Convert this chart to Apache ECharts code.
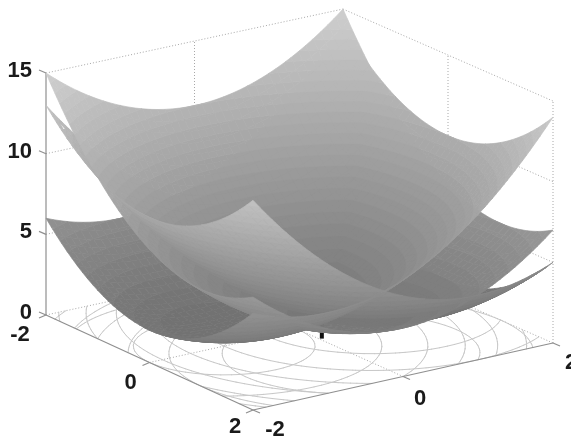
<!DOCTYPE html>
<html><head><meta charset="utf-8">
<style>html,body{margin:0;padding:0;background:#fff}#c{width:571px;height:438px}</style>
<script src="https://cdn.jsdelivr.net/npm/echarts@6/dist/echarts.min.js"></script>
</head><body><div id="c"></div>
<script>
// ---------- data ----------
const gridValues = [-2,-1.9,-1.8,-1.7,-1.6,-1.5,-1.4,-1.3,-1.2,-1.1,-1,-0.9,-0.8,-0.7,-0.6,-0.5,-0.4,-0.3,-0.2,-0.1,0,0.1,0.2,0.3,0.4,0.5,0.6,0.7,0.8,0.9,1,1.1,1.2,1.3,1.4,1.5,1.6,1.7,1.8,1.9,2];
// each surface height = its profile along the first axis + its profile along the second axis + its base
const upperAlongA = [9,8.41,7.84,7.29,6.76,6.25,5.76,5.29,4.84,4.41,4,3.61,3.24,2.89,2.56,2.25,1.96,1.69,1.44,1.21,1,0.81,0.64,0.49,0.36,0.25,0.16,0.09,0.04,0.01,0,0.01,0.04,0.09,0.16,0.25,0.36,0.49,0.64,0.81,1];
const upperAlongB = [4,3.61,3.24,2.89,2.56,2.25,1.96,1.69,1.44,1.21,1,0.81,0.64,0.49,0.36,0.25,0.16,0.09,0.04,0.01,0,0.01,0.04,0.09,0.16,0.25,0.36,0.49,0.64,0.81,1,1.21,1.44,1.69,1.96,2.25,2.56,2.89,3.24,3.61,4];
const middleAlongA = [4,3.61,3.24,2.89,2.56,2.25,1.96,1.69,1.44,1.21,1,0.81,0.64,0.49,0.36,0.25,0.16,0.09,0.04,0.01,0,0.01,0.04,0.09,0.16,0.25,0.36,0.49,0.64,0.81,1,1.21,1.44,1.69,1.96,2.25,2.56,2.89,3.24,3.61,4];
const middleAlongB = [9,8.41,7.84,7.29,6.76,6.25,5.76,5.29,4.84,4.41,4,3.61,3.24,2.89,2.56,2.25,1.96,1.69,1.44,1.21,1,0.81,0.64,0.49,0.36,0.25,0.16,0.09,0.04,0.01,0,0.01,0.04,0.09,0.16,0.25,0.36,0.49,0.64,0.81,1];
const lowerAlongA = [4,3.61,3.24,2.89,2.56,2.25,1.96,1.69,1.44,1.21,1,0.81,0.64,0.49,0.36,0.25,0.16,0.09,0.04,0.01,0,0.01,0.04,0.09,0.16,0.25,0.36,0.49,0.64,0.81,1,1.21,1.44,1.69,1.96,2.25,2.56,2.89,3.24,3.61,4];
const lowerAlongB = [1,0.81,0.64,0.49,0.36,0.25,0.16,0.09,0.04,0.01,0,0.01,0.04,0.09,0.16,0.25,0.36,0.49,0.64,0.81,1,1.21,1.44,1.69,1.96,2.25,2.56,2.89,3.24,3.61,4,4.41,4.84,5.29,5.76,6.25,6.76,7.29,7.84,8.41,9];
const surfaceBases = [2, 0, 1];
const contourLevels = [2,4,6,8,10,12,14];
const zTicks = [0,5,10,15];
const zTickLabels = ['0','5','10','15'];
const aTicks = [-2,0,2];
const aTickLabels = ['-2','0','2'];
const bTicks = [-2,0,2];
const bTickLabels = ['-2','0','2'];
const markerPoint = [0.4,0.03,0,1];
const bandStep = 0.5;

// ---------- 3D view: (a,b,z) -> plane coordinates used by the hidden cartesian axes ----------
function project(a,b,z){
  const A=(a+2)/4,B=(b+2)/4;
  return [46+207*A+297*B+3*A*B, 315+95*A-64*B-3*A*B-16.13*z];
}
const profiles=[[upperAlongA,upperAlongB],[middleAlongA,middleAlongB],[lowerAlongA,lowerAlongB]];
const n=gridValues.length;
const surfaces=profiles.map((p,s)=>p[0].map(ha=>p[1].map(hb=>ha+hb+surfaceBases[s])));

function gray(z){const g=Math.round(Math.min(212,105+6.8*z));return `rgb(${g},${g},${g})`;}

// keep the part of a mesh cell that lies on one side of a height level
function clipZ(poly,level,keepAbove){
  const out=[];
  for(let i=0;i<poly.length;i++){
    const P=poly[i],Q=poly[(i+1)%poly.length];
    const pIn=keepAbove?P[2]>=level:P[2]<=level;
    const qIn=keepAbove?Q[2]>=level:Q[2]<=level;
    if(pIn)out.push(P);
    if(pIn!==qIn){
      const t=(level-P[2])/(Q[2]-P[2]);
      out.push([P[0]+t*(Q[0]-P[0]),P[1]+t*(Q[1]-P[1]),level]);
    }
  }
  return out;
}
const quads=[];
surfaces.forEach(Z=>{
  for(let i=0;i<n-1;i++)for(let j=0;j<n-1;j++){
    const c=[[i,j],[i+1,j],[i+1,j+1],[i,j+1]];
    const pts=c.map(([p,q])=>[gridValues[p],gridValues[q],Z[p][q]]);
    const zs=pts.map(t=>t[2]);
    const k0=Math.floor(Math.min(...zs)/bandStep),k1=Math.floor(Math.max(...zs)/bandStep);
    for(let k=k0;k<=k1;k++){
      let poly=clipZ(pts,k*bandStep,true);
      if(poly.length)poly=clipZ(poly,(k+1)*bandStep,false);
      if(poly.length<3)continue;
      const zm=poly.reduce((m,t)=>m+t[2],0)/poly.length;
      quads.push({pts:poly,zm,color:gray((k+0.5)*bandStep)});
    }
  }
});
quads.sort((u,v)=>u.zm-v.zm);

// contour lines on the floor, traced from the same surfaces
const contourSegs=[];
surfaces.forEach(Z=>{
  contourLevels.forEach(L=>{
    for(let i=0;i<n-1;i++)for(let j=0;j<n-1;j++){
      const c=[[i,j],[i+1,j],[i+1,j+1],[i,j+1]];
      const hits=[];
      for(let k=0;k<4;k++){
        const [p,q]=c[k],[r,s]=c[(k+1)%4];
        const z1=Z[p][q],z2=Z[r][s];
        if((z1<L)!==(z2<L)){
          const t=(L-z1)/(z2-z1);
          hits.push([gridValues[p]+t*(gridValues[r]-gridValues[p]),gridValues[q]+t*(gridValues[s]-gridValues[q])]);
        }
      }
      if(hits.length>=2)contourSegs.push([hits[0],hits[1]]);
      if(hits.length===4)contourSegs.push([hits[2],hits[3]]);
    }
  });
});

// box lines
const lo=-2,hi=2,zTop=15;
const solid=[[[lo,lo,0],[lo,lo,zTop]],[[lo,lo,0],[hi,lo,0]],[[hi,lo,0],[hi,hi,0]]];
const dotted=[[[lo,lo,zTop],[lo,hi,zTop]],[[lo,hi,zTop],[hi,hi,zTop]],[[hi,hi,0],[hi,hi,zTop]],[[lo,lo,0],[lo,hi,0]],[[lo,hi,0],[hi,hi,0]],[[lo,hi,0],[lo,hi,zTop]]];
[5,10].forEach(t=>{dotted.push([[lo,lo,t],[lo,hi,t]]);dotted.push([[lo,hi,t],[hi,hi,t]]);});
dotted.push([[lo,0,0],[lo,0,zTop]],[[0,hi,0],[0,hi,zTop]],[[lo,0,0],[hi,0,0]],[[0,lo,0],[0,hi,0]]);

function lineEl(api,u,v,style){
  const P=api.coord(project(u[0],u[1],u[2])),Q=api.coord(project(v[0],v[1],v[2]));
  return {type:'line',shape:{x1:P[0],y1:P[1],x2:Q[0],y2:Q[1]},style};
}
function projectedOffset(api,pt,dx,dy){
  const P=api.coord(project(pt[0],pt[1],pt[2]));
  return [P[0]+dx,P[1]+dy];
}
const labelFont='bold 22px "Liberation Sans", Arial, sans-serif';
const labelColor='#1a1a1a';
const textItems=[];
zTicks.forEach((t,i)=>textItems.push({p:[lo,lo,t],dx:-14,dy:-2,s:zTickLabels[i],align:'right'}));
aTicks.forEach((t,i)=>textItems.push({p:[t,lo,0],dx:[-26,-19,-18][i],dy:[20,20,17][i],s:aTickLabels[i],align:'center'}));
bTicks.forEach((t,i)=>textItems.push({p:[hi,t,0],dx:[22,17,18][i],dy:[20,22,20][i],s:bTickLabels[i],align:'center'}));

const tickLines=[];
zTicks.forEach(t=>tickLines.push({p:[lo,lo,t],dx:-7,dy:-3}));
aTicks.forEach(t=>tickLines.push({p:[t,lo,0],dx:-7,dy:3}));
bTicks.forEach(t=>tickLines.push({p:[hi,t,0],dx:7,dy:3}));

const idx=a=>a.map((_,i)=>i);
const chart=echarts.init(document.getElementById('c'),null,{renderer:'canvas'});
chart.setOption({
  animation:false,
  backgroundColor:'#fff',
  grid:{left:0,right:0,top:0,bottom:0},
  xAxis:{type:'value',min:0,max:571,show:false},
  yAxis:{type:'value',min:0,max:438,inverse:true,show:false},
  series:[
    {type:'custom',coordinateSystem:'cartesian2d',silent:true,clip:false,z:1,progressive:0,data:idx(dotted),
      renderItem:(p,api)=>{const d=dotted[p.dataIndex];return lineEl(api,d[0],d[1],{stroke:'#a8a8a8',lineWidth:1,lineDash:[1,2]});}},
    {type:'custom',coordinateSystem:'cartesian2d',silent:true,clip:false,z:2,progressive:0,data:idx(contourSegs),
      renderItem:(p,api)=>{const d=contourSegs[p.dataIndex];return lineEl(api,[d[0][0],d[0][1],0],[d[1][0],d[1][1],0],{stroke:'#c8c8c8',lineWidth:1,lineCap:'round'});}},
    {type:'custom',coordinateSystem:'cartesian2d',silent:true,clip:false,z:3,progressive:0,data:idx(solid),
      renderItem:(p,api)=>{const d=solid[p.dataIndex];return lineEl(api,d[0],d[1],{stroke:'#8f8f8f',lineWidth:1.2});}},
    {type:'custom',coordinateSystem:'cartesian2d',silent:true,clip:false,z:3,progressive:0,data:idx(tickLines),
      renderItem:(p,api)=>{const d=tickLines[p.dataIndex];const P=projectedOffset(api,d.p,0,0);const Q=projectedOffset(api,d.p,d.dx,d.dy);
        return {type:'line',shape:{x1:P[0],y1:P[1],x2:Q[0],y2:Q[1]},style:{stroke:'#8f8f8f',lineWidth:1.2}};}},
    {type:'custom',coordinateSystem:'cartesian2d',silent:true,clip:false,z:4,progressive:0,data:[0],
      renderItem:(p,api)=>lineEl(api,[markerPoint[0],markerPoint[1],markerPoint[2]],[markerPoint[0],markerPoint[1],markerPoint[3]],{stroke:'#111',lineWidth:4})},
    {type:'custom',coordinateSystem:'cartesian2d',silent:true,clip:false,z:5,progressive:0,data:idx(quads),
      renderItem:(p,api)=>{const q=quads[p.dataIndex];
        return {type:'polygon',shape:{points:q.pts.map(t=>api.coord(project(t[0],t[1],t[2])))},style:{fill:q.color,stroke:q.color,lineWidth:0.7}};}},
    {type:'custom',coordinateSystem:'cartesian2d',silent:true,clip:false,z:6,progressive:0,data:idx(textItems),
      renderItem:(p,api)=>{const t=textItems[p.dataIndex];const P=projectedOffset(api,t.p,t.dx,t.dy);
        return {type:'text',x:P[0],y:P[1],style:{text:t.s,font:labelFont,fill:labelColor,align:t.align,verticalAlign:'middle'}};}}
  ]
});
</script></body></html>
